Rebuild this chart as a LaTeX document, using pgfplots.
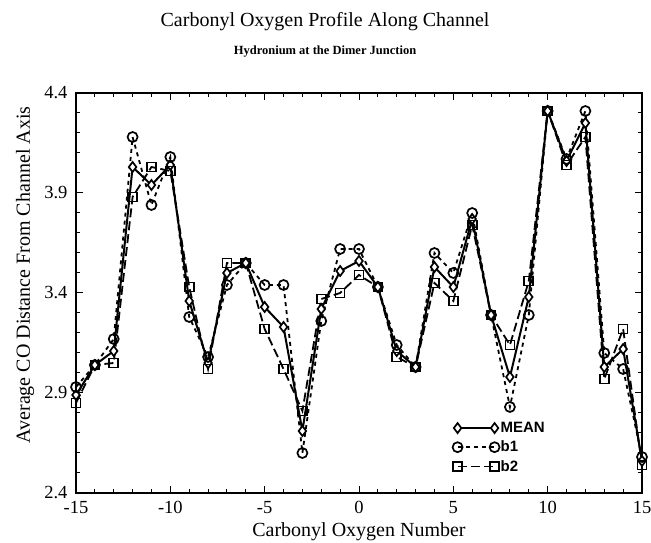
\documentclass[border=0pt]{standalone}
\usepackage{fontspec}
\setmainfont{Liberation Serif}
\newfontfamily\legendfont{Liberation Sans}
\usepackage{pgfplots}
\pgfplotsset{compat=1.18}

\begin{document}
\begin{tikzpicture}
\begin{axis}[
  scale only axis,
  width=566pt, height=400pt,
  xmin=-15, xmax=15, ymin=2.4, ymax=4.4,
  clip=false,
  xtick={-15,-10,...,15},
  ytick={2.4,2.9,3.4,3.9,4.4},
  minor x tick num=4, minor y tick num=4,
  tick align=inside,
  major tick length=7pt, minor tick length=4pt,
  every tick/.style={black, line width=1pt},
  axis line style={line width=1.4pt},
  /pgf/number format/assume math mode=true,
  ticklabel style={font=\fontsize{18.5}{18.5}\selectfont},
  xticklabel style={yshift=-5pt},
  yticklabel style={xshift=-5pt, /pgf/number format/fixed,
    /pgf/number format/precision=1, /pgf/number format/fixed zerofill},
  xlabel={Carbonyl Oxygen Number},
  ylabel={Average CO Distance From Channel Axis},
  every axis x label/.style={at={(axis description cs:0.5,-0.0975)}, anchor=center,
    font=\fontsize{20}{20}\selectfont},
  every axis y label/.style={at={(axis description cs:-0.0898,0.545)}, rotate=90, anchor=center,
    font=\fontsize{20}{20}\selectfont},
  legend image code/.code={%
    \draw[mark repeat=1, mark phase=1, #1] plot coordinates {(0pt,0pt) (37pt,0pt)};},
  legend style={at={(axis description cs:0.665,0.18)}, anchor=north west,
    draw=none, fill=none, inner sep=0pt, row sep=5pt,
    font=\legendfont\fontsize{15}{15}\selectfont\bfseries,
    nodes={inner sep=1pt}},
  legend cell align=left,
]
% mean of the two runs
\addplot[black, line width=2pt,
  mark=diamond*, mark size=5pt,
  mark options={solid, fill=white, line width=1.7pt}]
coordinates {
(-15,2.89) (-14,3.04) (-13,3.11) (-12,4.03) (-11,3.94) (-10,4.04)
(-9,3.36) (-8,3.05) (-7,3.50) (-6,3.55) (-5,3.33) (-4,3.23)
(-3,2.71) (-2,3.32) (-1,3.51) (0,3.56) (1,3.43) (2,3.11)
(3,3.03) (4,3.53) (5,3.43) (6,3.77) (7,3.29) (8,2.98)
(9,3.38) (10,4.31) (11,4.06) (12,4.25) (13,3.03) (14,3.12) (15,2.56)
};
\addlegendentry{MEAN}
% run b1
\addplot[black, line width=1.8pt, dash pattern=on 4pt off 4pt,
  mark=o, mark size=5pt,
  mark options={solid, fill=white, line width=1.7pt}]
coordinates {
(-15,2.93) (-14,3.04) (-13,3.17) (-12,4.18) (-11,3.84) (-10,4.08)
(-9,3.28) (-8,3.08) (-7,3.44) (-6,3.55) (-5,3.44) (-4,3.44)
(-3,2.60) (-2,3.26) (-1,3.62) (0,3.62) (1,3.43) (2,3.14)
(3,3.03) (4,3.60) (5,3.50) (6,3.80) (7,3.29) (8,2.83)
(9,3.29) (10,4.31) (11,4.07) (12,4.31) (13,3.10) (14,3.02) (15,2.58)
};
\addlegendentry{b1}
% run b2
\addplot[black, line width=1.8pt, dash pattern=on 9pt off 4pt,
  mark=square, mark size=4.5pt,
  mark options={solid, fill=white, line width=1.7pt}]
coordinates {
(-15,2.85) (-14,3.04) (-13,3.05) (-12,3.88) (-11,4.03) (-10,4.01)
(-9,3.43) (-8,3.02) (-7,3.55) (-6,3.55) (-5,3.22) (-4,3.02)
(-3,2.81) (-2,3.37) (-1,3.40) (0,3.49) (1,3.43) (2,3.08)
(3,3.03) (4,3.45) (5,3.36) (6,3.74) (7,3.29) (8,3.14)
(9,3.46) (10,4.31) (11,4.04) (12,4.18) (13,2.97) (14,3.22) (15,2.54)
};
\addlegendentry{b2}
% titles
\node[font=\fontsize{20}{20}\selectfont] at (axis description cs:0.44,1.1775)
  {Carbonyl Oxygen Profile Along Channel};
\node[font=\fontsize{12.5}{12.5}\selectfont\bfseries] at (axis description cs:0.44,1.1025)
  {Hydronium at the Dimer Junction};
\end{axis}
\pgfresetboundingbox
\path (-76pt,-50pt) rectangle (575pt,493pt);
\end{tikzpicture}
\end{document}
